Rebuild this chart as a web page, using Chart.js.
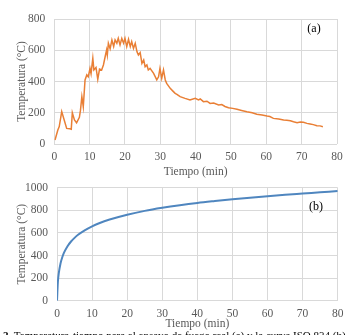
<!DOCTYPE html>
<html>
<head>
<meta charset="utf-8">
<script src="https://cdn.jsdelivr.net/npm/chart.js@4.4.1/dist/chart.umd.min.js"></script>
<style>
  html, body { margin: 0; padding: 0; background: #fff; overflow: hidden; }
  body { width: 355px; height: 335px; position: relative; }
  canvas { position: absolute; left: 0; }
  #fireChart { top: 0; }
  #isoChart { top: 165px; }
  #caption {
    position: absolute; left: 3px; top: 329px;
    font: 11px "Liberation Serif", serif; color: #000; white-space: nowrap;
  }
</style>
</head>
<body>
<canvas id="fireChart" width="355" height="183"></canvas>
<canvas id="isoChart" width="355" height="170"></canvas>
<div id="caption"><b>2.</b> Temperatura-tiempo para el ensayo de fuego real (a) y la curva ISO 834 (b)</div>
<script>
// (a) ensayo de fuego real
const fireTime = [0.2, 1.0, 1.4, 2.1, 2.8, 3.5, 4.4, 4.8, 5.1, 5.7, 6.3, 7.1, 7.4, 7.8, 8.2, 8.7, 9.2, 9.6,
  10.1, 10.4, 10.9, 11.2, 11.8, 12.3, 12.8, 13.4, 13.9, 14.4, 14.8, 15.0, 15.3, 15.8, 16.3, 16.8,
  17.2, 17.7, 18.1, 18.6, 19.1, 19.6, 20.0, 20.5, 21.0, 21.5, 21.9, 22.4, 22.9, 23.4, 23.8, 24.3,
  24.8, 25.3, 25.7, 26.2, 26.6, 27.1, 28.1, 29.0, 29.5, 29.9, 30.4, 30.9, 31.4, 31.8, 32.8, 33.5,
  34.2, 34.7, 35.6, 37.0, 38.4, 38.8, 39.9, 40.8, 41.3, 42.2, 43.2, 44.1, 45.1, 46.5, 47.4, 48.3,
  49.3, 50.5, 51.7, 53.0, 54.5, 56.0, 57.3, 58.8, 60.2, 61.0, 62.0, 63.5, 64.9, 65.8, 66.8, 67.7,
  68.7, 69.6, 70.5, 71.5, 72.4, 73.3, 74.3, 75.2, 76.0];
const fireTemp = [26, 90, 111, 207, 154, 100, 98, 95, 200, 154, 136, 171, 215, 303, 239, 410, 442, 430,
  484, 450, 548, 474, 490, 414, 480, 474, 506, 560, 602, 570, 645, 610, 666, 624,
  666, 645, 676, 634, 676, 645, 676, 623, 670, 623, 655, 612, 645, 590, 570, 585,
  516, 538, 495, 506, 474, 484, 452, 410, 430, 484, 420, 474, 410, 388, 356, 340,
  324, 318, 303, 292, 282, 285, 292, 282, 288, 271, 274, 260, 262, 250, 252, 240,
  232, 228, 222, 215, 207, 200, 190, 186, 179, 176, 164, 160, 154, 152, 149, 142,
  136, 140, 139, 132, 128, 124, 117, 116, 111];

// (b) curva ISO 834
const isoTime = [0, 0.25, 0.5, 1, 1.5, 2, 3, 4, 5, 6, 8, 10, 12, 15, 20, 25, 30, 35, 40, 45, 50, 55, 60, 65, 70, 75, 80];
const isoTemp = [0, 165, 241, 329, 384, 425, 482, 524, 556, 583, 625, 658, 685, 718, 761, 795, 822, 845, 865, 882, 898, 912, 925, 937, 948, 959, 970];

const xTicks = [0, 10, 20, 30, 40, 50, 60, 70, 80];

const FONT = '"Liberation Serif", "Times New Roman", serif';
const GRID = '#d9d9d9';
const TEXT = '#595959';

// etiqueta (a) / (b) dentro del área del gráfico
const panelLabel = {
  id: 'panelLabel',
  afterDraw(chart, args, opts) {
    const c = chart.ctx;
    c.save();
    c.font = '12px ' + FONT;
    c.fillStyle = '#000';
    c.textAlign = 'center';
    c.textBaseline = 'middle';
    c.fillText(opts.text, chart.scales.x.getPixelForValue(opts.x), chart.scales.y.getPixelForValue(opts.y));
    c.restore();
  }
};

function makeChart(id, time, temp, color, lineW, yMax, pad, yWidth, xHeight, label) {
  return new Chart(document.getElementById(id), {
    type: 'line',
    data: {
      datasets: [{
        data: time.map((t, i) => ({ x: t, y: temp[i] })),
        borderColor: color,
        borderWidth: lineW,
        pointRadius: 0,
        tension: label.smooth ? 0.4 : 0,
        cubicInterpolationMode: label.smooth ? 'monotone' : 'default'
      }]
    },
    options: {
      responsive: false,
      animation: false,
      layout: { padding: pad },
      plugins: {
        legend: { display: false },
        tooltip: { enabled: false },
        panelLabel: label
      },
      scales: {
        x: {
          type: 'linear',
          min: 0, max: 80,
          afterBuildTicks: s => { s.ticks = xTicks.map(v => ({ value: v })); },
          afterFit: s => { s.height = xHeight; },
          grid: { color: GRID, drawTicks: false },
          border: { display: false },
          ticks: { color: TEXT, font: { family: FONT, size: 11.5 }, padding: 6, maxRotation: 0 },
          title: { display: true, text: 'Tiempo (min)', color: TEXT, font: { family: FONT, size: 11.5 }, padding: { top: 0, bottom: 4 } }
        },
        y: {
          min: 0, max: yMax,
          afterFit: s => { s.width = yWidth; },
          grid: { color: GRID, drawTicks: false },
          border: { display: false },
          ticks: { stepSize: 200, color: TEXT, font: { family: FONT, size: 11.5 }, padding: 9, callback: v => String(v) },
          title: { display: true, text: 'Temperatura (°C)', color: TEXT, font: { family: FONT, size: 11.5 }, padding: { top: 4, bottom: 0 } }
        }
      }
    },
    plugins: [panelLabel]
  });
}

makeChart('fireChart', fireTime, fireTemp, '#E97F35', 1.5, 800,
  { left: 11, right: 18, top: 19, bottom: 0 }, 43.3, 39,
  { text: '(a)', x: 73.5, y: 740, smooth: false });

makeChart('isoChart', isoTime, isoTemp, '#4F86BF', 2, 1000,
  { left: 11, right: 17.3, top: 22.7, bottom: 0 }, 46, 34.3,
  { text: '(b)', x: 73.8, y: 835, smooth: true });
</script>
</body>
</html>
